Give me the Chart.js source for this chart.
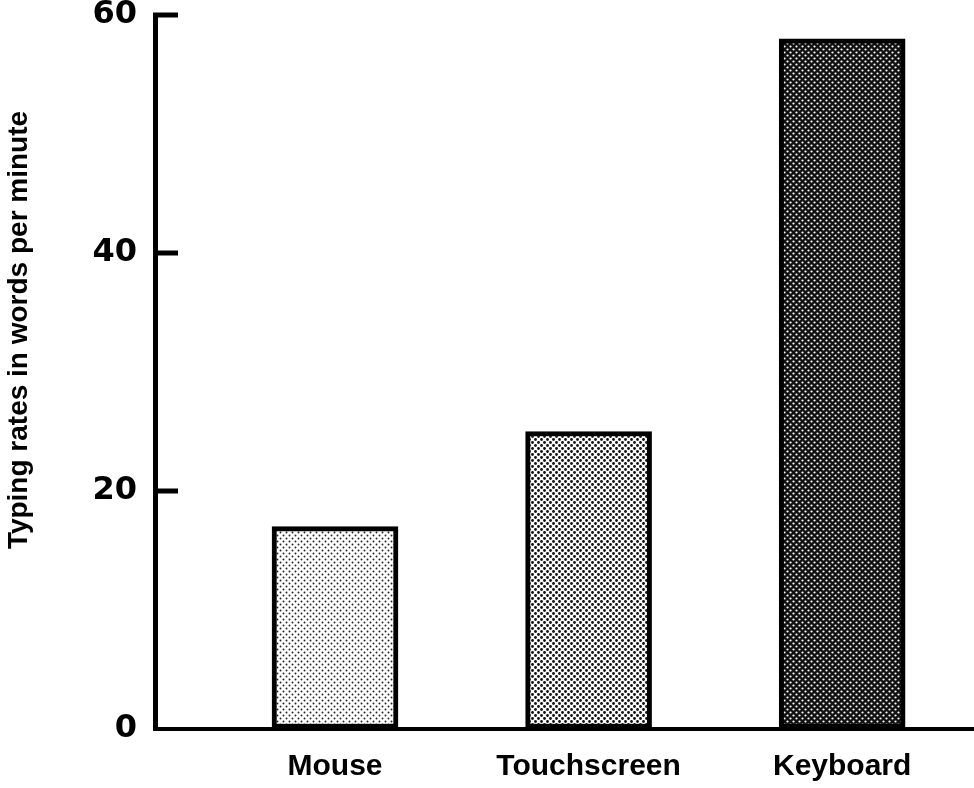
<!DOCTYPE html>
<html>
<head>
<meta charset="utf-8">
<script src="https://cdn.jsdelivr.net/npm/chart.js@4.4.1/dist/chart.umd.min.js"></script>
<style>
  html, body { margin: 0; padding: 0; background: #fff; }
  #wrap { width: 974px; height: 788px; }
</style>
</head>
<body>
<div id="wrap"><canvas id="c" width="974" height="788"></canvas></div>
<script>
// ---- data ----
const categories = ['Mouse', 'Touchscreen', 'Keyboard'];
const typingRates = [17, 25, 58];
const yTickValues = [0, 20, 40, 60];
const yAxisTitle = 'Typing rates in words per minute';

// ---- patterns ----
function makePattern(bg, dot, size, r, offsets) {
  const c = document.createElement('canvas');
  c.width = size; c.height = size;
  const g = c.getContext('2d');
  g.fillStyle = bg; g.fillRect(0, 0, size, size);
  g.fillStyle = dot;
  offsets.forEach(([x, y]) => {
    g.beginPath(); g.arc(x, y, r, 0, Math.PI * 2); g.fill();
  });
  return g.createPattern(c, 'repeat');
}
const patMouse = makePattern('#ffffff', '#222222', 6, 0.95, [[1.5, 1.5], [4.5, 4.5]]);
const patTouch = makePattern('#ffffff', '#111111', 6, 1.4, [[1.5, 1.5], [4.5, 4.5]]);
const patKey = makePattern('#111111', '#ffffff', 6, 1.1, [[1.5, 1.5], [4.5, 4.5]]);

const points = categories.map((c, i) => ({ x: i, y: typingRates[i] }));

const innerTicks = {
  id: 'innerTicks',
  afterDatasetsDraw(chart) {
    const { ctx, chartArea, scales } = chart;
    ctx.save();
    ctx.strokeStyle = '#000';
    ctx.lineWidth = 5;
    yTickValues.forEach(v => {
      if (v === 0) return;
      const y = scales.y.getPixelForValue(v);
      ctx.beginPath();
      ctx.moveTo(chartArea.left - 2, y);
      ctx.lineTo(chartArea.left + 23, y);
      ctx.stroke();
    });
    ctx.restore();
  }
};

const yTitle = {
  id: 'yTitle',
  afterDraw(chart) {
    const { ctx } = chart;
    ctx.save();
    ctx.translate(27, 330);
    ctx.rotate(-Math.PI / 2);
    ctx.font = 'bold 28px "Liberation Sans", Arial, sans-serif';
    ctx.fillStyle = '#000';
    ctx.textAlign = 'center';
    ctx.textBaseline = 'alphabetic';
    ctx.fillText(yAxisTitle, 0, 0);
    ctx.restore();
  }
};

new Chart(document.getElementById('c'), {
  type: 'bar',
  data: {
    datasets: [{
      data: points,
      backgroundColor: [patMouse, patTouch, patKey],
      borderColor: '#000',
      borderWidth: 5,
      borderSkipped: false,
      barThickness: 126
    }]
  },
  options: {
    responsive: false,
    animation: false,
    layout: { padding: { top: 15, left: 0, right: 0, bottom: 0 } },
    plugins: { legend: { display: false }, tooltip: { enabled: false } },
    scales: {
      x: {
        type: 'linear',
        min: -0.71,
        max: 2.52,
        offset: false,
        afterBuildTicks(scale) { scale.ticks = categories.map((c, i) => ({ value: i })); },
        afterFit(scale) { scale.height = 59; scale.paddingLeft = 0; scale.paddingRight = 0; },
        grid: { display: true, drawOnChartArea: false, drawTicks: false },
        border: { display: true, color: '#000', width: 4 },
        ticks: {
          padding: 20,
          color: '#000',
          maxRotation: 0,
          autoSkip: false,
          font: { family: '"Liberation Sans", Arial, sans-serif', size: 30, weight: 'bold', lineHeight: 1.2 },
          callback: (v) => categories[v] !== undefined ? categories[v] : ''
        }
      },
      y: {
        min: 0,
        max: 60,
        afterBuildTicks(scale) { scale.ticks = yTickValues.map(v => ({ value: v })); },
        afterFit(scale) { scale.width = 155; scale.paddingTop = 0; scale.paddingBottom = 0; },
        grid: { display: true, drawOnChartArea: false, drawTicks: false },
        border: { display: true, color: '#000', width: 5 },
        ticks: {
          padding: 18,
          color: '#000',
          font: { family: '"DejaVu Sans", sans-serif', size: 32, weight: 'bold' }
        }
      }
    }
  },
  plugins: [innerTicks, yTitle]
});
</script>
</body>
</html>
